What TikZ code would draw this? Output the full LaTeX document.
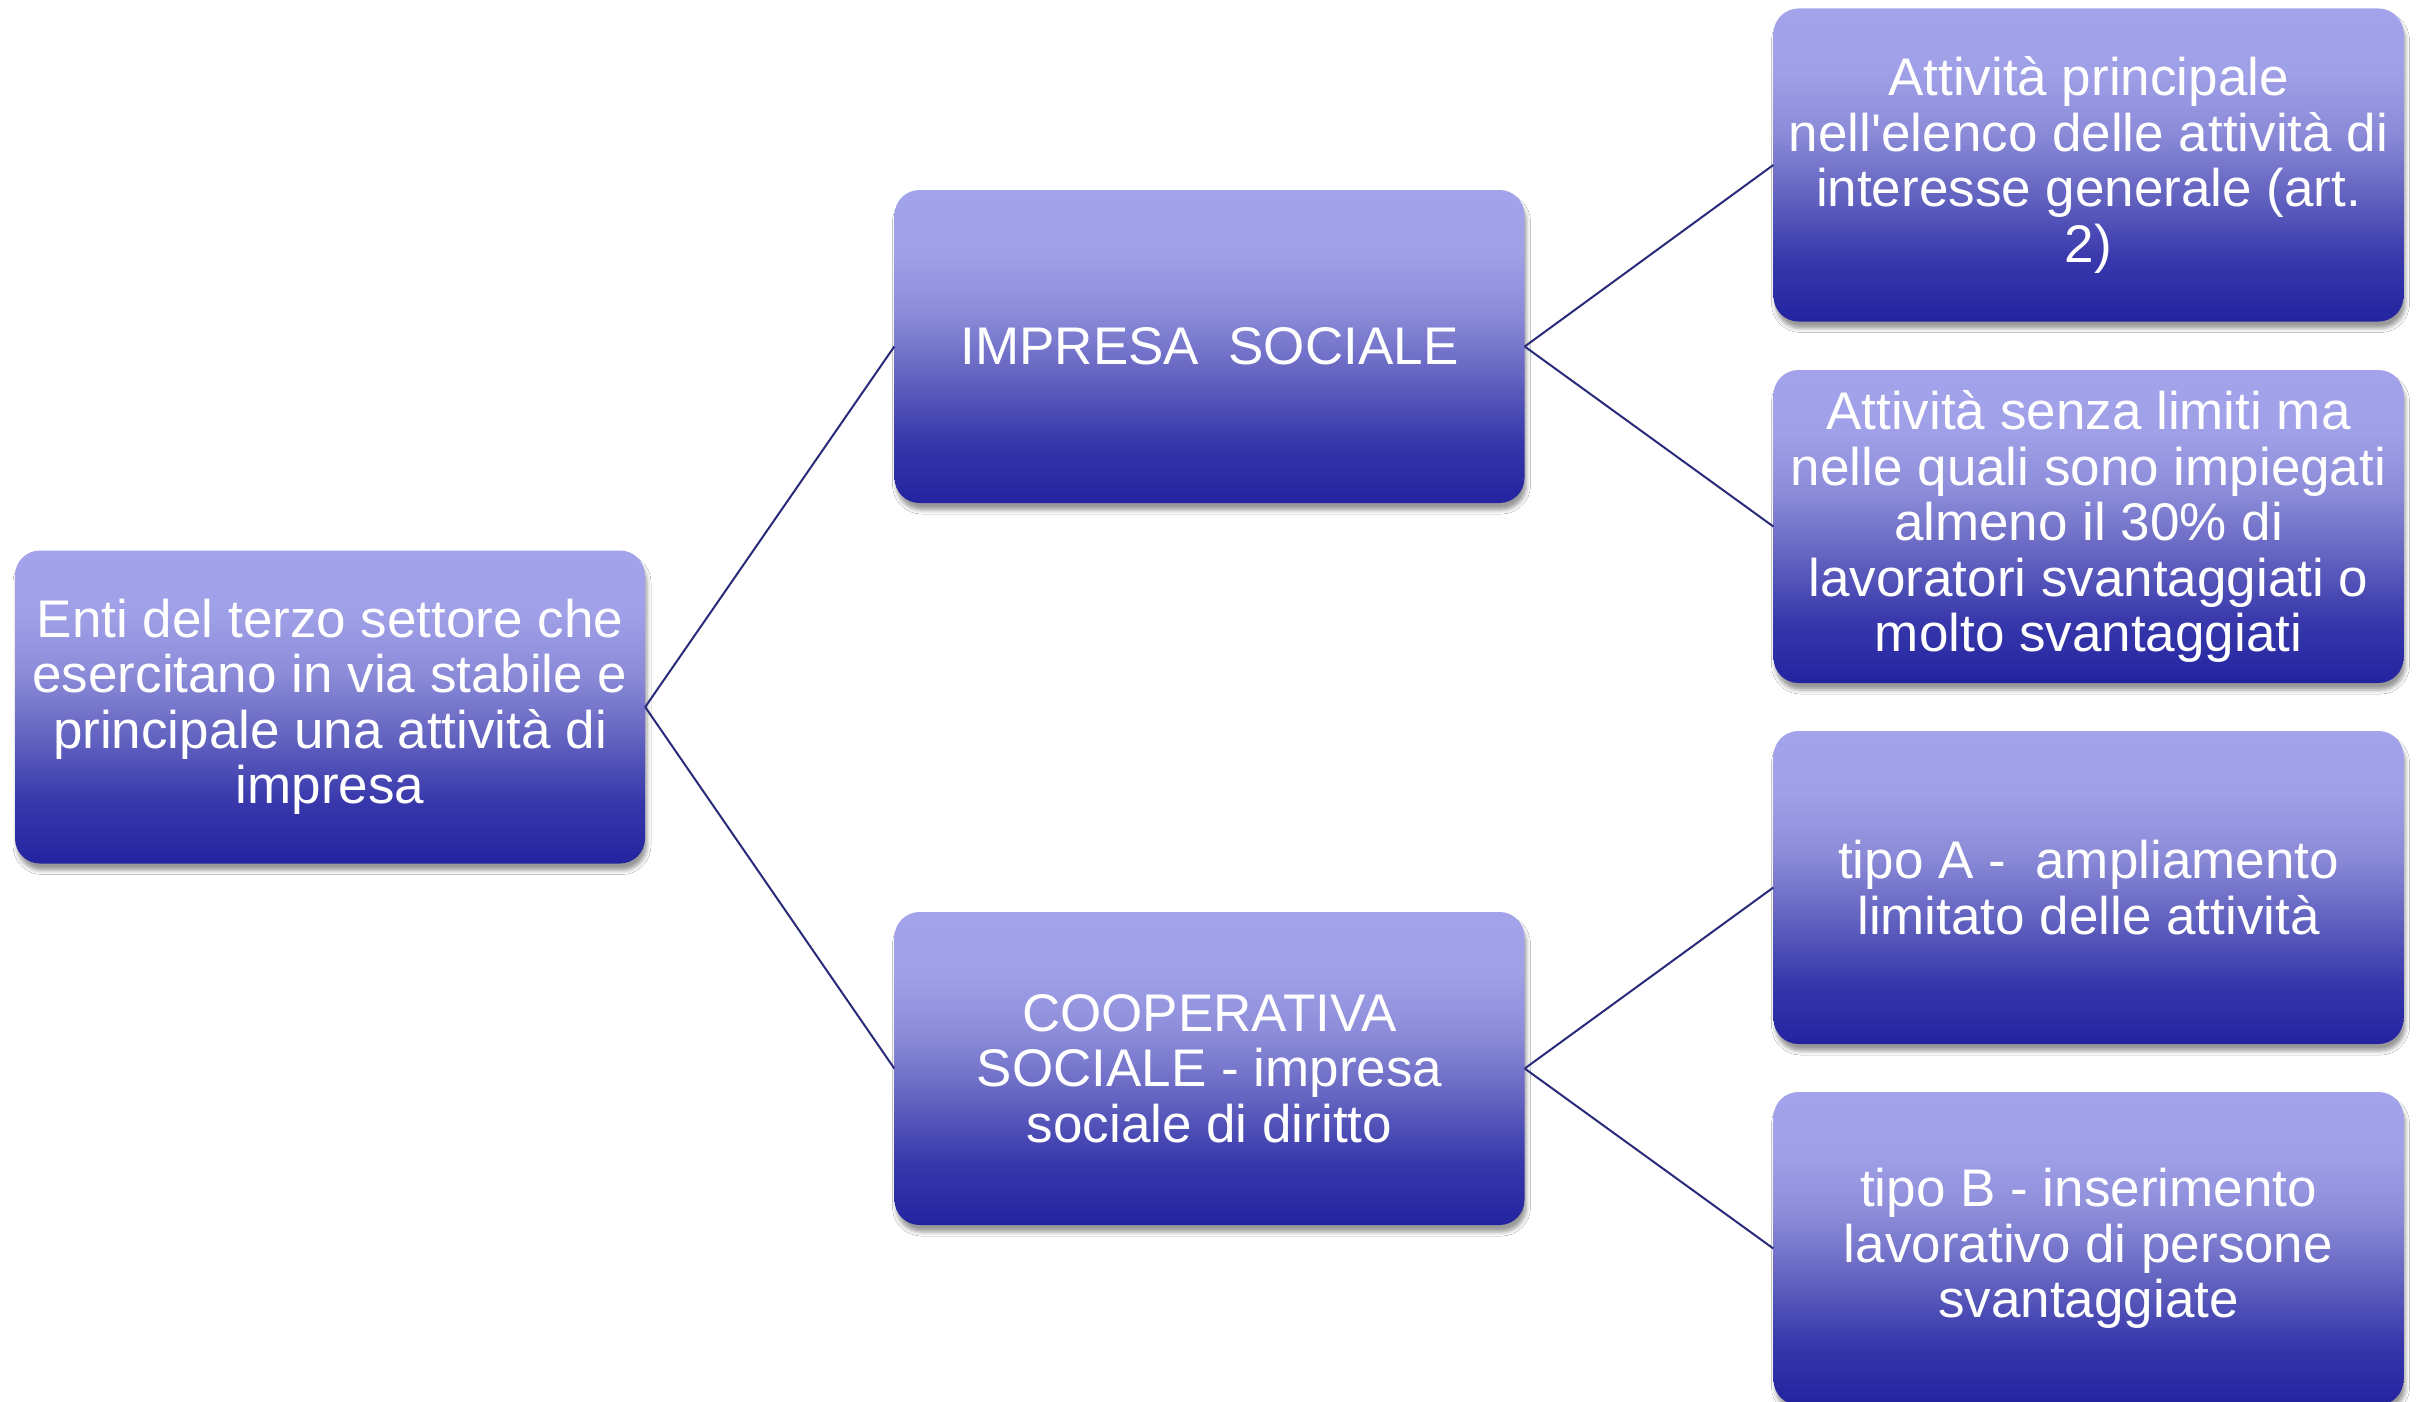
\documentclass[tikz,border=0pt]{standalone}
\usepackage{fontspec}
\setmainfont{Liberation Sans}
\usetikzlibrary{shadows.blur}
\definecolor{cB}{HTML}{2323A0}
\definecolor{cB2}{HTML}{3838AC}
\definecolor{cM}{HTML}{6262C0}
\definecolor{cM2}{HTML}{8A8AD8}
\definecolor{cL2}{HTML}{A0A0E8}
\definecolor{cL}{HTML}{A3A3EC}
\definecolor{linec}{HTML}{2A2A7A}
\pgfdeclareverticalshading{boxshade}{100bp}{color(0bp)=(cB); color(25bp)=(cB); color(35bp)=(cB2); color(45bp)=(cM); color(55bp)=(cM2); color(65bp)=(cL2); color(75bp)=(cL); color(100bp)=(cL)}
\tikzset{
  box/.style={rounded corners=25pt, shading=boxshade, minimum width=630pt, minimum height=313pt,
    inner sep=0pt, align=center, text=white, font=\fontsize{53}{55.5}\selectfont,
    blur shadow={shadow xshift=2pt, shadow yshift=-7pt, shadow blur radius=4pt, shadow opacity=40}},
  link/.style={draw=linec, line width=2pt}
}
\begin{document}
\begin{tikzpicture}[x=1pt,y=-1pt]
\fill[white] (0,0) rectangle (2419,1402);
\useasboundingbox (0,0) rectangle (2419,1402);
\node[box] (L) at (330,707) {Enti del terzo settore che\\esercitano in via stabile e\\principale una attività di\\impresa};
\node[box] (IS) at (1209.5,346.5) {IMPRESA\ \ SOCIALE};
\node[box] (CS) at (1209.5,1068.5) {COOPERATIVA\\SOCIALE - impresa\\sociale di diritto};
\node[box] (R1) at (2088.5,165) {Attività principale\\nell\textquotesingle elenco delle attività di\\interesse generale (art.\\2)};
\node[box] (R2) at (2088.5,526.5) {Attività senza limiti ma\\nelle quali sono impiegati\\almeno il 30\% di\\lavoratori svantaggiati o\\molto svantaggiati};
\node[box] (R3) at (2088.5,887.5) {tipo A -\ \ ampliamento\\limitato delle attività};
\node[box] (R4) at (2088.5,1248.5) {tipo B - inserimento\\lavorativo di persone\\svantaggiate};
\draw[link] (L.east) -- (IS.west);
\draw[link] (L.east) -- (CS.west);
\draw[link] (IS.east) -- (R1.west);
\draw[link] (IS.east) -- (R2.west);
\draw[link] (CS.east) -- (R3.west);
\draw[link] (CS.east) -- (R4.west);
\end{tikzpicture}
\end{document}
